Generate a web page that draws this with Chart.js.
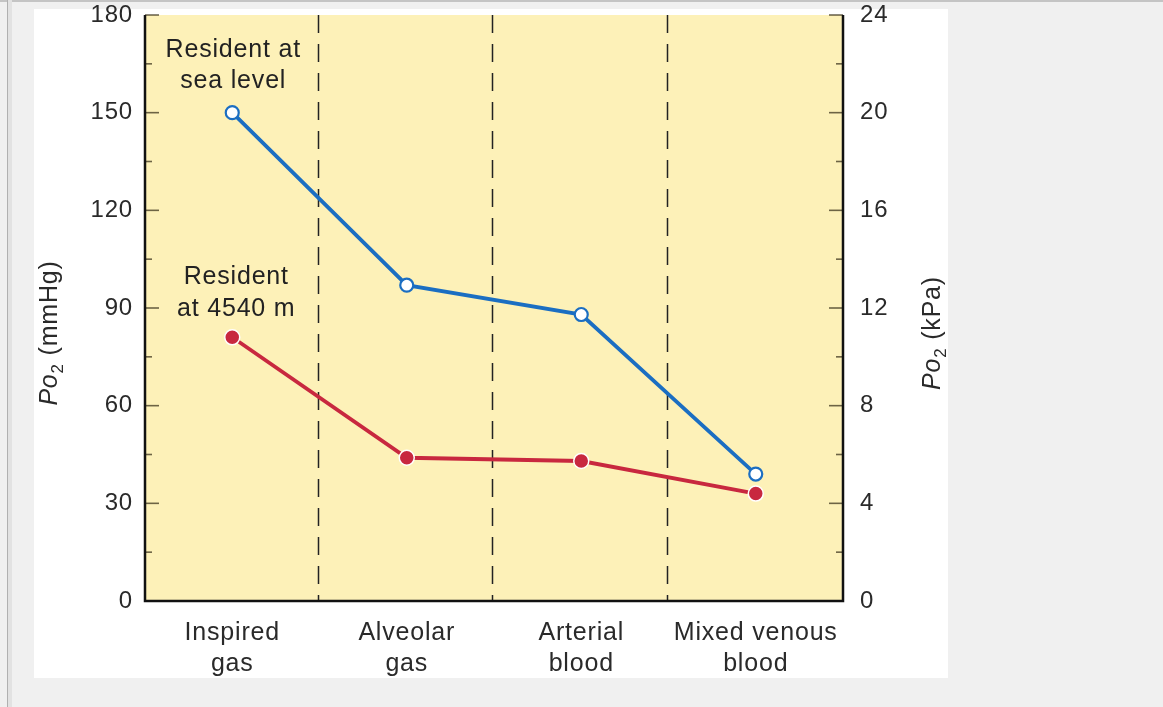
<!DOCTYPE html>
<html><head><meta charset="utf-8">
<script src="https://cdn.jsdelivr.net/npm/chart.js@4.4.1/dist/chart.umd.min.js"></script>
<style>
html,body{margin:0;padding:0;background:#f0f0f0;width:1163px;height:707px;overflow:hidden;position:relative}
#topline{position:absolute;left:0;top:0;width:1163px;height:2px;background:#c4c4c4}
#leftline{position:absolute;left:7px;top:0;width:4px;height:707px;background:#e2e2e2;border-left:1px solid #b0b0b0}
#panel{position:absolute;left:34px;top:9px;width:914px;height:669px;background:#fff}
canvas{position:absolute;left:0;top:0}
</style></head><body>
<div id="topline"></div><div id="leftline"></div><div id="panel"></div>
<canvas id="c" width="1163" height="707"></canvas>
<script>
// ---- data ----
const categories = [['Inspired','gas'],['Alveolar','gas'],['Arterial','blood'],['Mixed venous','blood']];
const seaLevel = [150, 97, 88, 39];
const altitude = [81, 44, 43, 33];
const mmHgTicks = [0, 30, 60, 90, 120, 150, 180];
const kPaTicks = [0, 4, 8, 12, 16, 20, 24];
const seaLevelLabel = ['Resident at', 'sea level'];
const altitudeLabel = ['Resident', 'at 4540 m'];
const leftTitle = ['Po', '2', ' (mmHg)'];
const rightTitle = ['Po', '2', ' (kPa)'];

const BLUE = '#1b6ec2', RED = '#c8283f', YELLOW = '#fdf1b8';
const FONT = '"Liberation Sans", Arial, sans-serif';

function drawTitle(ctx, parts, cx, cy) {
  ctx.save();
  ctx.translate(cx, cy);
  ctx.rotate(-Math.PI / 2);
  ctx.fillStyle = '#2a2a2a';
  ctx.letterSpacing = '0.8px';
  ctx.textBaseline = 'alphabetic';
  ctx.textAlign = 'left';
  const fonts = ['italic 25px ' + FONT, '17px ' + FONT, '25px ' + FONT];
  const shifts = [0, 6, 0];
  let widths = parts.map((p, i) => { ctx.font = fonts[i]; return ctx.measureText(p).width; });
  const total = widths.reduce((a, b) => a + b, 0);
  let x = -total / 2;
  const base = 9;
  parts.forEach((p, i) => {
    ctx.font = fonts[i];
    ctx.fillText(p, x, base + shifts[i]);
    x += widths[i];
  });
  ctx.restore();
}

const decor = {
  id: 'decor',
  beforeDraw(chart) {
    chart.ctx.letterSpacing = '0.8px';
  },
  beforeDatasetsDraw(chart) {
    const { ctx, chartArea: a, scales } = chart;
    ctx.save();
    ctx.fillStyle = YELLOW;
    ctx.fillRect(a.left, a.top, a.right - a.left, a.bottom - a.top);
    // dashed separators between categories
    ctx.strokeStyle = '#222';
    ctx.lineWidth = 1.5;
    ctx.setLineDash([18, 11]);
    for (let i = 0; i < categories.length - 1; i++) {
      const x = Math.round(scales.x.getPixelForValue(i + 0.5)) - 1.5;
      ctx.beginPath();
      ctx.moveTo(x, a.top);
      ctx.lineTo(x, a.bottom);
      ctx.stroke();
    }
    ctx.setLineDash([]);
    // inward tick marks
    ctx.strokeStyle = 'rgba(60,52,30,0.75)';
    ctx.lineWidth = 1.6;
    const y = scales.y, y2 = scales.y2;
    for (let i = 0; i < mmHgTicks.length; i++) {
      const py = y.getPixelForValue(mmHgTicks[i]);
      ctx.beginPath(); ctx.moveTo(a.left, py); ctx.lineTo(a.left + 14, py); ctx.stroke();
      if (i < mmHgTicks.length - 1) {
        const pm = y.getPixelForValue((mmHgTicks[i] + mmHgTicks[i + 1]) / 2);
        ctx.beginPath(); ctx.moveTo(a.left, pm); ctx.lineTo(a.left + 7, pm); ctx.stroke();
      }
    }
    for (let i = 0; i < kPaTicks.length; i++) {
      const py = y2.getPixelForValue(kPaTicks[i]);
      ctx.beginPath(); ctx.moveTo(a.right, py); ctx.lineTo(a.right - 14, py); ctx.stroke();
      if (i < kPaTicks.length - 1) {
        const pm = y2.getPixelForValue((kPaTicks[i] + kPaTicks[i + 1]) / 2);
        ctx.beginPath(); ctx.moveTo(a.right, pm); ctx.lineTo(a.right - 7, pm); ctx.stroke();
      }
    }
    // axis lines
    ctx.strokeStyle = '#111';
    ctx.lineWidth = 2.5;
    ctx.beginPath();
    ctx.moveTo(a.left, a.top); ctx.lineTo(a.left, a.bottom);
    ctx.lineTo(a.right, a.bottom); ctx.lineTo(a.right, a.top);
    ctx.stroke();
    ctx.restore();
  },
  afterDatasetsDraw(chart) {
    const { ctx, scales } = chart;
    ctx.save();
    ctx.letterSpacing = '0.8px';
    ctx.fillStyle = '#222';
    ctx.font = '25px ' + FONT;
    ctx.textAlign = 'center';
    ctx.textBaseline = 'alphabetic';
    const x0 = scales.x.getPixelForValue(0);
    const ySea = scales.y.getPixelForValue(167);
    seaLevelLabel.forEach((t, i) => ctx.fillText(t, x0 + 1, ySea + i * 31));
    const yAlt = scales.y.getPixelForValue(97.5);
    altitudeLabel.forEach((t, i) => ctx.fillText(t, x0 + 4, yAlt + i * 32));
    ctx.restore();
    const a = chart.chartArea;
    const cy = (a.top + a.bottom) / 2 + 25;
    drawTitle(ctx, leftTitle, 48, cy);
    drawTitle(ctx, rightTitle, 931, cy);
  }
};

new Chart(document.getElementById('c'), {
  type: 'line',
  data: {
    labels: categories,
    datasets: [
      { label: 'Resident at sea level', data: seaLevel, yAxisID: 'y',
        borderColor: BLUE, borderWidth: 3.8, tension: 0,
        pointRadius: 6.5, pointBorderWidth: 2.2, pointBackgroundColor: '#ffffff', pointBorderColor: BLUE },
      { label: 'Resident at 4540 m', data: altitude, yAxisID: 'y',
        borderColor: RED, borderWidth: 3.8, tension: 0,
        pointRadius: 7.5, pointBorderWidth: 1.5, pointBackgroundColor: RED, pointBorderColor: '#ffffff' }
    ]
  },
  options: {
    responsive: false,
    animation: false,
    clip: false,
    layout: { padding: { top: 15, left: 0, right: 0, bottom: 0 } },
    plugins: { legend: { display: false }, tooltip: { enabled: false } },
    scales: {
      x: {
        type: 'category', offset: true,
        grid: { display: false, drawTicks: false }, border: { display: false },
        ticks: { color: '#2a2a2a', font: { family: FONT, size: 25, lineHeight: 1.22 }, padding: 17, maxRotation: 0, autoSkip: false },
        afterFit(s) { s.height = 106; s.paddingLeft = 0; s.paddingRight = 0; }
      },
      y: {
        position: 'left', min: 0, max: 180,
        grid: { display: false, drawTicks: false }, border: { display: false },
        ticks: { color: '#2a2a2a', font: { family: FONT, size: 24 }, padding: 12 },
        afterBuildTicks(s) { s.ticks = mmHgTicks.map(v => ({ value: v })); },
        afterFit(s) { s.width = 145; s.paddingTop = 0; s.paddingBottom = 0; }
      },
      y2: {
        position: 'right', min: 0, max: 24,
        grid: { display: false, drawTicks: false }, border: { display: false },
        ticks: { color: '#2a2a2a', font: { family: FONT, size: 24 }, padding: 17 },
        afterBuildTicks(s) { s.ticks = kPaTicks.map(v => ({ value: v })); },
        afterFit(s) { s.width = 320; s.paddingTop = 0; s.paddingBottom = 0; }
      }
    }
  },
  plugins: [decor]
});
</script>
</body></html>
